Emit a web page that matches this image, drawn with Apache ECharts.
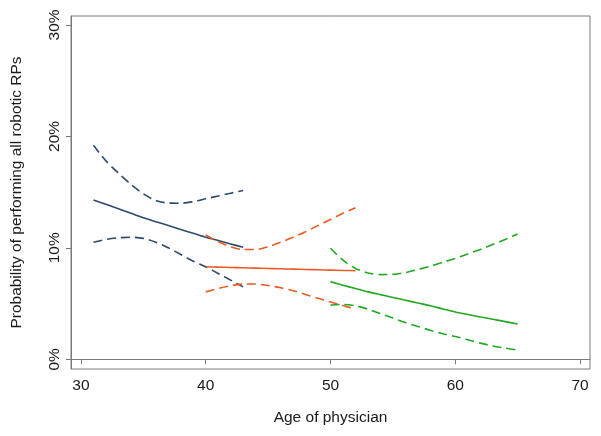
<!DOCTYPE html>
<html><head><meta charset="utf-8">
<script src="https://cdn.jsdelivr.net/npm/echarts@6/dist/echarts.min.js"></script>
<style>html,body{margin:0;padding:0;background:#fff;}#c{width:601px;height:436px;}</style>
</head><body><div id="c"></div>
<script>
// Data (age of physician, probability %)
const blueAges = [31, 32, 33, 34, 35, 36, 37, 38, 39, 40, 41, 42, 43];
const blueMid  = [14.3, 13.9, 13.5, 13.1, 12.7, 12.35, 12.0, 11.65, 11.3, 10.95, 10.65, 10.35, 10.05];
const blueHi   = [19.2, 17.8, 16.7, 15.7, 14.85, 14.25, 14.02, 14.0, 14.15, 14.4, 14.65, 14.9, 15.15];
const blueLo   = [10.5, 10.75, 10.9, 10.95, 10.85, 10.5, 10.0, 9.4, 8.8, 8.3, 7.7, 7.1, 6.5];

const orangeAges = [40, 41, 42, 43, 44, 45, 46, 47, 48, 49, 50, 51, 52];
const orangeMid  = [8.3, 8.27, 8.24, 8.21, 8.18, 8.15, 8.12, 8.09, 8.06, 8.03, 8.0, 7.97, 7.95];
const orangeHi   = [11.15, 10.55, 10.1, 9.85, 9.85, 10.1, 10.5, 10.95, 11.45, 12.0, 12.55, 13.1, 13.6];
const orangeLo   = [6.05, 6.35, 6.6, 6.75, 6.75, 6.62, 6.42, 6.15, 5.82, 5.48, 5.15, 4.82, 4.5];

const greenAges = [50, 51, 52, 53, 54, 55, 56, 57, 58, 59, 60, 61, 62, 63, 64, 65];
const greenMid  = [6.97, 6.65, 6.35, 6.05, 5.8, 5.55, 5.3, 5.05, 4.8, 4.52, 4.25, 4.02, 3.8, 3.6, 3.38, 3.17];
const greenHi   = [9.96, 8.9, 8.15, 7.75, 7.6, 7.62, 7.78, 8.05, 8.35, 8.7, 9.05, 9.45, 9.85, 10.3, 10.75, 11.25];
const greenLo   = [4.87, 4.92, 4.8, 4.5, 4.1, 3.7, 3.3, 2.95, 2.6, 2.3, 2.05, 1.75, 1.45, 1.2, 1.0, 0.83];

const xTicks = [30, 40, 50, 60, 70];
const yTicks = [0, 10, 20, 30];

const BLUE = '#2d4a6c', ORANGE = '#ef5a27', GREEN = '#22a822';
const FONT = 'Liberation Sans, Arial, sans-serif';

function pairs(xs, ys) { return xs.map((x, i) => [x, ys[i]]); }
function line(xs, ys, color, dashed) {
  return {
    type: 'line', data: pairs(xs, ys), smooth: 0.3, showSymbol: false, symbol: 'none',
    silent: true, animation: false,
    lineStyle: { color: color, width: 1.6, type: dashed ? [9, 5] : 'solid' }
  };
}

const chart = echarts.init(document.getElementById('c'), null, { renderer: 'canvas' });
chart.setOption({
  backgroundColor: '#fff',
  animation: false,
  grid: { left: 71, right: 11, top: 16, bottom: 67, show: true, borderColor: '#7a7a7a', borderWidth: 1, backgroundColor: '#fff' },
  xAxis: {
    type: 'value', min: 29.2, max: 70.8,
    name: 'Age of physician', nameLocation: 'middle', nameGap: 41,
    nameTextStyle: { fontFamily: FONT, fontSize: 15.5, color: '#1a1a1a' },
    axisLine: { show: true, lineStyle: { color: '#7a7a7a', width: 1 } },
    axisTick: { show: true, length: 5, lineStyle: { color: '#7a7a7a' }, customValues: xTicks },
    axisLabel: { fontFamily: FONT, fontSize: 15.5, color: '#1a1a1a', margin: 9, customValues: xTicks },
    splitLine: { show: false }
  },
  yAxis: {
    type: 'value', min: -0.87, max: 30.8,
    name: 'Probability of performing all robotic RPs', nameLocation: 'middle', nameGap: 46, nameRotate: 90,
    nameTextStyle: { fontFamily: FONT, fontSize: 15.5, color: '#1a1a1a' },
    axisLine: { show: true, lineStyle: { color: '#7a7a7a', width: 1 } },
    axisTick: { show: true, length: 5, lineStyle: { color: '#7a7a7a' }, customValues: yTicks },
    axisLabel: { fontFamily: FONT, fontSize: 15.5, color: '#1a1a1a', margin: 8, rotate: 90, formatter: '{value}%', customValues: yTicks },
    splitLine: { show: false }
  },
  series: [
    line(blueAges, blueHi, BLUE, true),
    line(blueAges, blueLo, BLUE, true),
    line(blueAges, blueMid, BLUE, false),
    line(orangeAges, orangeHi, ORANGE, true),
    line(orangeAges, orangeLo, ORANGE, true),
    line(orangeAges, orangeMid, ORANGE, false),
    line(greenAges, greenHi, GREEN, true),
    line(greenAges, greenLo, GREEN, true),
    line(greenAges, greenMid, GREEN, false)
  ]
});
</script></body></html>
